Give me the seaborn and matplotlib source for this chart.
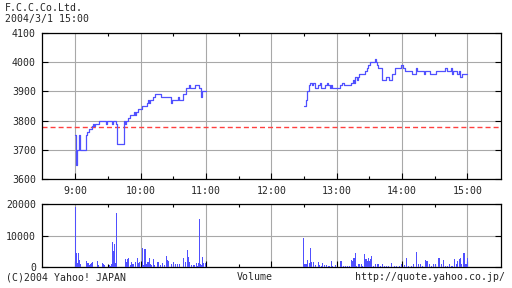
import matplotlib
matplotlib.use("Agg")
import matplotlib.pyplot as plt
import seaborn as sns

# ---------------- data ----------------
title = "F.C.C.Co.Ltd."
timestamp = "2004/3/1 15:00"
footer_left = "(C)2004 Yahoo! JAPAN"
footer_mid = "Volume"
footer_right = "http://quote.yahoo.co.jp/"

hour_labels = ["9:00", "10:00", "11:00", "12:00", "13:00", "14:00", "15:00"]
price_ticks = [3600, 3700, 3800, 3900, 4000, 4100]
volume_ticks = [0, 10000, 20000]
prev_close = 3777

# minutes after 9:00, step-wise prices
am_minute = [0, 1, 2, 3, 4, 10, 11, 13, 15, 16, 17, 18, 22, 28, 29, 34, 35, 37, 38, 45,
             46, 47, 48, 50, 54, 55, 56, 58, 61, 66, 67, 68, 69, 71, 73, 79, 88, 89, 94, 95,
             99, 102, 104, 105, 110, 114, 115, 116, 120]
am_price = [3750, 3650, 3700, 3750, 3700, 3750, 3760, 3770, 3780, 3790, 3780, 3790, 3800, 3790, 3800, 3790, 3800, 3790, 3720, 3800,
            3790, 3800, 3810, 3820, 3830, 3820, 3830, 3840, 3850, 3860, 3870, 3860, 3870, 3880, 3890, 3880, 3860, 3870, 3880, 3870,
            3890, 3910, 3920, 3910, 3920, 3910, 3880, 3900, 3900]

pm_minute = [210, 212, 213, 215, 216, 217, 218, 220, 223, 225, 226, 229, 231, 232, 234, 235, 236, 243, 245, 247,
             253, 255, 256, 257, 259, 260, 261, 266, 268, 269, 271, 275, 276, 277, 278, 282, 285, 288, 291, 294,
             299, 301, 303, 309, 313, 314, 320, 321, 326, 331, 340, 341, 345, 346, 347, 351, 352, 353, 355, 360]
pm_price = [3850, 3870, 3900, 3920, 3930, 3920, 3930, 3910, 3920, 3930, 3910, 3920, 3930, 3920, 3910, 3920, 3910, 3920, 3930, 3920,
            3930, 3940, 3930, 3950, 3940, 3950, 3960, 3970, 3980, 3990, 4000, 4010, 4000, 3990, 3980, 3940, 3950, 3940, 3960, 3980,
            3990, 3980, 3970, 3960, 3980, 3970, 3960, 3970, 3960, 3970, 3980, 3970, 3980, 3960, 3970, 3960, 3970, 3950, 3960, 3960]

vol_minute = [0, 1, 2, 3, 4, 5, 10, 11, 12, 13, 14, 15, 16, 20, 21, 25, 26, 27, 31, 32,
              33, 34, 35, 36, 37, 38, 46, 47, 48, 49, 51, 52, 53, 55, 57, 58, 59, 62, 63, 64,
              65, 66, 67, 68, 69, 70, 72, 73, 76, 78, 80, 82, 84, 85, 86, 88, 90, 92, 94, 96,
              99, 101, 103, 104, 105, 107, 109, 111, 112, 113, 114, 115, 116, 117, 118, 120,
              210, 211, 212, 213, 215, 216, 217, 219, 221, 223, 224, 226, 227, 229, 231, 233, 235, 236, 239, 244,
              246, 248, 250, 252, 254, 255, 256, 257, 258, 260, 261, 263, 264, 266, 267, 268, 269, 270, 271, 272,
              274, 276, 278, 280, 282, 284, 286, 288, 290, 293, 295, 298, 300, 302, 304, 306, 309, 311, 313, 315,
              317, 319, 322, 323, 325, 327, 329, 331, 334, 336, 338, 340, 342, 344, 346, 348, 350, 351, 353, 354,
              355, 357, 358, 359, 360]
vol_value = [19000, 4500, 1200, 4500, 2200, 1000, 1800, 1300, 1300, 700, 900, 1300, 1700, 1900, 600, 1300, 1000, 700, 700, 300,
             900, 8000, 5200, 7300, 1200, 17300, 2600, 1600, 2600, 2800, 600, 1600, 1000, 1600, 2900, 1400, 1500, 6000, 600, 5700,
             800, 1600, 1600, 3000, 1000, 700, 2700, 600, 1600, 700, 1300, 500, 3500, 2300, 1900, 1000, 1500, 800, 900, 1000,
             2900, 1600, 5400, 3200, 1600, 500, 700, 1300, 400, 1300, 15300, 800, 700, 3200, 1200, 1400,
             9200, 800, 900, 2200, 1200, 6000, 1600, 1600, 600, 1600, 500, 400, 1200, 700, 500, 400, 1800, 400, 700, 1800,
             400, 400, 400, 300, 2200, 1800, 3000, 4400, 400, 800, 800, 800, 400, 4200, 2600, 1800, 3000, 1800, 2600, 3500,
             400, 800, 800, 400, 800, 400, 400, 400, 1200, 400, 400, 400, 800, 600, 3000, 400, 400, 800, 4800, 800,
             800, 400, 2200, 1800, 1000, 400, 800, 800, 2900, 800, 2200, 400, 400, 800, 400, 2600, 800, 1800, 2400, 3000,
             1000, 4600, 1000, 1000, 2900]

# ---------------- style ----------------
sns.set_style("white")
plt.rcParams["font.family"] = ["DejaVu Sans Mono", "DejaVu Sans"]
plt.rcParams["font.size"] = 7.1

BLUE = "#5050ff"
RED = "#ff4040"
GRID = "#a8a8a8"

fig = plt.figure(figsize=(5.12, 2.88), dpi=100)
fig.patch.set_facecolor("white")

W, H = 512.0, 288.0
left_px, right_px = 42.3, 500.7
ax = fig.add_axes([left_px / W, 1 - 179.2 / H, (right_px - left_px) / W, (179.2 - 32.7) / H])
axv = fig.add_axes([left_px / W, 1 - 267.0 / H, (right_px - left_px) / W, (267.0 - 204.3) / H])

hour_pos = [60 * i for i in range(len(hour_labels))]
half_pos = [p + 30 for p in hour_pos[:-1]]
xlim = (-30.3, 390.7)

# price lines
sns.lineplot(x=am_minute, y=am_price, ax=ax, color=BLUE, lw=0.9, drawstyle="steps-post",
             estimator=None, sort=False, zorder=3)
sns.lineplot(x=pm_minute, y=pm_price, ax=ax, color=BLUE, lw=0.9, drawstyle="steps-post",
             estimator=None, sort=False, zorder=3)
ax.axhline(prev_close, color=RED, lw=1.0, dashes=(3.6, 2.2), zorder=2)

# volume bars
sns.barplot(x=vol_minute, y=vol_value, ax=axv, native_scale=True, width=1.0, color=BLUE,
            saturation=1, linewidth=0, errorbar=None, antialiased=False, zorder=3)

for a in (ax, axv):
    a.set_xlim(*xlim)
    a.set_xticks(hour_pos)
    a.set_xticks(half_pos, minor=True)
    a.set_axisbelow(True)
    a.grid(True, which="major", color=GRID, lw=0.8)
    a.grid(False, which="minor")
    a.set_xlabel("")
    a.set_ylabel("")
    for s in a.spines.values():
        s.set_color("black")
        s.set_linewidth(0.9)
    a.tick_params(axis="x", which="major", direction="in", length=4, width=0.8, color="black",
                  top=False, bottom=True, pad=5)
    a.tick_params(axis="x", which="minor", direction="in", length=2.5, width=0.8, color="black",
                  top=True, bottom=True)
    a.tick_params(axis="y", which="major", direction="in", length=4, width=0.8, color="black",
                  left=True, right=True, pad=4.5, labelsize=7.1)

ax.set_ylim(price_ticks[0], price_ticks[-1])
ax.set_yticks(price_ticks)
ax.set_yticklabels([str(v) for v in price_ticks])
ax.set_xticklabels(hour_labels, fontsize=7.1)

axv.set_ylim(volume_ticks[0], volume_ticks[-1])
axv.set_yticks(volume_ticks)
axv.set_yticklabels([str(v) for v in volume_ticks])
axv.tick_params(axis="x", labelbottom=False)

# texts
fig.text(4.7 / W, 1 - 8.0 / H, title, ha="left", va="center", fontsize=7.1)
fig.text(4.7 / W, 1 - 19.0 / H, timestamp, ha="left", va="center", fontsize=7.1)
fig.text(5.5 / W, 1 - 277 / H, footer_left, ha="left", va="center", fontsize=7.1)
fig.text(255 / W, 1 - 277 / H, footer_mid, ha="center", va="center", fontsize=7.1)
fig.text(355 / W, 1 - 277 / H, footer_right, ha="left", va="center", fontsize=7.1)

fig.savefig("out.png", dpi=100, facecolor="white")
